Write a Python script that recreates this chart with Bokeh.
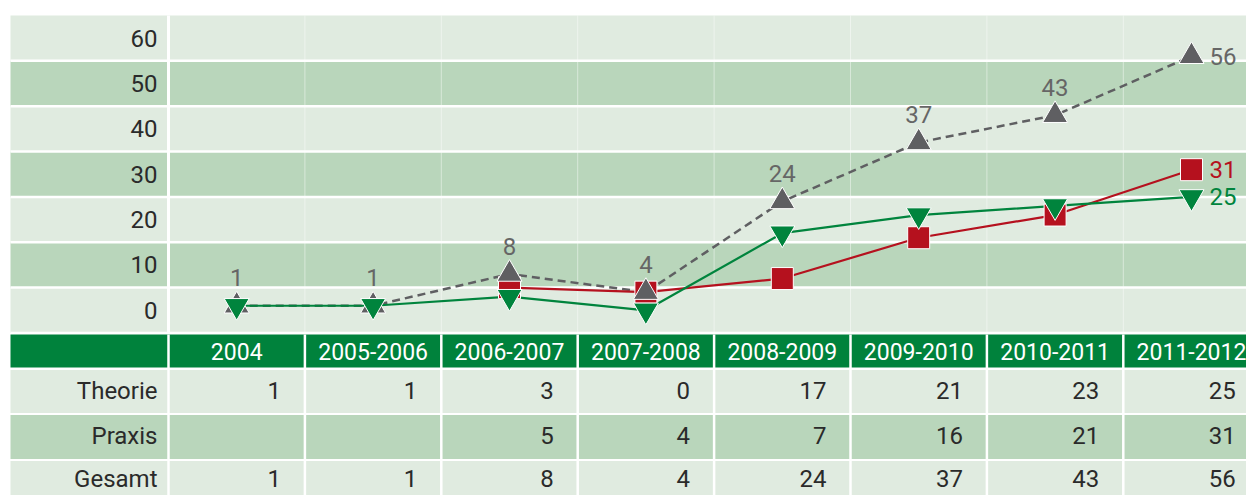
from bokeh.plotting import figure
from bokeh.models import Range1d, ColumnDataSource
from bokeh.embed import file_html
from bokeh.resources import INLINE
from bokeh.core.properties import value

# ---------------- data ----------------
years = ["2004", "2005-2006", "2006-2007", "2007-2008",
         "2008-2009", "2009-2010", "2010-2011", "2011-2012"]
theorie = [1, 1, 3, 0, 17, 21, 23, 25]
praxis = [None, None, 5, 4, 7, 16, 21, 31]
gesamt = [1, 1, 8, 4, 24, 37, 43, 56]
row_names = ["Theorie", "Praxis", "Gesamt"]
y_ticks = [0, 10, 20, 30, 40, 50, 60]
y_tick_labels = ["0", "10", "20", "30", "40", "50", "60"]

# ---------------- layout / style ----------------
W, H = 1246, 495
PAGE = 0
COL_PX = 136.4          # width of one year column in px
COL0_PX = 236.2         # page x of first column centre
UNIT_PX = 4.536         # px per value unit
ZERO_PX = 309.8         # page y of value 0
FONT = value("Roboto")
FS = "24px"
FS_HEAD = "23px"

LIGHT = "#E0EBE0"
DARK = "#B9D6BB"
HEAD = "#00823C"
RED = "#B5111E"
GREEN = "#00843D"
GREY = "#5F5F62"
GREY_TXT = "#666666"
TXT = "#2A2A2A"


def xp(px):
    return (px - COL0_PX) / COL_PX


def yv(px):
    return (ZERO_PX - px) / UNIT_PX


X0, X1 = xp(PAGE), xp(PAGE + W)
LEFT = xp(10)
SEP = -0.5

p = figure(width=W, height=H, x_range=Range1d(X0, X1),
           y_range=Range1d(yv(PAGE + H), yv(PAGE)),
           output_backend="svg", toolbar_location=None,
           x_axis_location=None, y_axis_location=None,
           min_border=0, outline_line_color=None,
           background_fill_color="white", border_fill_color="white")
p.xgrid.visible = False
p.ygrid.visible = False
p.extra_y_ranges = {"tbl": Range1d(start=PAGE + H, end=PAGE)}

# ---------------- chart background bands ----------------
band_src = ColumnDataSource(dict(
    bottom=[t - 5 for t in y_ticks],
    top=[t + 5 for t in y_ticks],
    color=[LIGHT if i % 2 == 0 else DARK for i in range(len(y_ticks))],
))
p.quad(left=LEFT, right=X1, bottom="bottom", top="top", fill_color="color",
       line_color=None, source=band_src)
p.segment(x0=LEFT, x1=X1, y0=[t - 5 for t in y_ticks], y1=[t - 5 for t in y_ticks],
          line_color="white", line_width=2.5)
ncol = len(years)
p.segment(x0=[i + 0.5 for i in range(ncol - 1)], x1=[i + 0.5 for i in range(ncol - 1)],
          y0=y_ticks[0] - 5, y1=y_ticks[-1] + 5, line_color="white", line_alpha=0.45,
          line_width=1)
p.segment(x0=SEP, x1=SEP, y0=y_ticks[0] - 5, y1=y_ticks[-1] + 5,
          line_color="white", line_width=3)

# y tick labels
p.text(x=xp(157), y=y_ticks, text=y_tick_labels, text_align="right",
       text_baseline="middle", text_font=FONT, text_font_size=FS, text_color=TXT)

# ---------------- series ----------------
xs = list(range(ncol))
pr_x = [x for x, v in zip(xs, praxis) if v is not None]
pr_y = [v for v in praxis if v is not None]

p.line(xs, gesamt, line_color=GREY, line_width=2.5, line_dash="8 5")
p.line(pr_x, pr_y, line_color=RED, line_width=2.2)
p.line(xs, theorie, line_color=GREEN, line_width=2.2)

p.scatter(pr_x, pr_y, marker="square", size=22, fill_color=RED,
          line_color="white", line_width=1)
p.scatter(xs, gesamt, marker="triangle", size=25, fill_color=GREY,
          line_color="white", line_width=1)
p.scatter(xs, theorie, marker="inverted_triangle", size=25, fill_color=GREEN,
          line_color="white", line_width=1)

# labels
p.text(x=xs[:-1], y=gesamt[:-1], text=[str(v) for v in gesamt[:-1]],
       text_align="center", text_baseline="middle", y_offset=-28,
       text_font=FONT, text_font_size=FS, text_color=GREY_TXT)
p.text(x=[xs[-1]], y=[gesamt[-1]], text=[str(gesamt[-1])], text_align="left",
       text_baseline="middle", x_offset=18, text_font=FONT, text_font_size=FS,
       text_color=GREY_TXT)
p.text(x=[pr_x[-1]], y=[pr_y[-1]], text=[str(pr_y[-1])], text_align="left",
       text_baseline="middle", x_offset=18, text_font=FONT, text_font_size=FS,
       text_color=RED)
p.text(x=[xs[-1]], y=[theorie[-1]], text=[str(theorie[-1])], text_align="left",
       text_baseline="middle", x_offset=18, text_font=FONT, text_font_size=FS,
       text_color=GREEN)

# ---------------- table ----------------
row_top = [334, 369.5, 414.5, 460.5]
row_bot = [367, 412.5, 458.5, 520]
row_col = [HEAD, LIGHT, DARK, LIGHT]
p.quad(left=LEFT, right=X1, top=row_top, bottom=row_bot, fill_color=row_col,
       line_color=None, y_range_name="tbl")
seps = [SEP] + [i + 0.5 for i in range(ncol - 1)]
p.segment(x0=seps, x1=seps, y0=row_top[0], y1=row_bot[-1], line_color="white",
          line_width=2.5, y_range_name="tbl")

text_y = [351, 390, 435, 478]
p.text(x=xs, y=[text_y[0]] * ncol, text=years, text_align="center",
       text_baseline="middle", text_font=FONT, text_font_size=FS_HEAD,
       text_color="white", y_range_name="tbl")
p.text(x=[xp(157)] * 3, y=text_y[1:], text=row_names, text_align="right",
       text_baseline="middle", text_font=FONT, text_font_size=FS,
       text_color=TXT, y_range_name="tbl")

cells_x, cells_y, cells_t = [], [], []
for r, series in enumerate([theorie, praxis, gesamt]):
    for i, v in enumerate(series):
        if v is None:
            continue
        cells_x.append(i + 0.5 - 24 / COL_PX)
        cells_y.append(text_y[r + 1])
        cells_t.append(str(v))
p.text(x=cells_x, y=cells_y, text=cells_t, text_align="right",
       text_baseline="middle", text_font=FONT, text_font_size=FS,
       text_color=TXT, y_range_name="tbl")

open("out.html", "w").write(file_html(p, INLINE))
